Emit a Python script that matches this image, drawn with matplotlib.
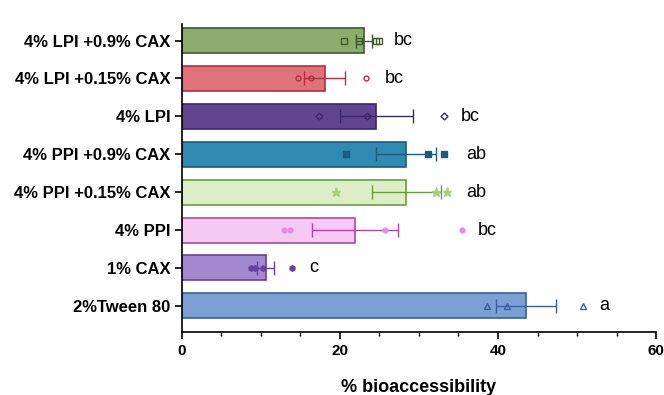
import matplotlib.pyplot as plt
import numpy as np

plt.rcParams['font.family'] = ['Liberation Sans', 'DejaVu Sans']

# bottom to top
groups = ["2%Tween 80", "1% CAX", "4% PPI", "4% PPI +0.15% CAX",
          "4% PPI +0.9% CAX", "4% LPI", "4% LPI +0.15% CAX", "4% LPI +0.9% CAX"]
means = [43.5, 10.6, 21.9, 28.4, 28.4, 24.6, 18.1, 23.0]
sems = [3.8, 1.1, 5.4, 4.4, 3.8, 4.6, 2.6, 1.0]
points = [
    [38.6, 41.2, 50.8],
    [8.8, 9.3, 10.2, 13.9],
    [12.9, 13.7, 25.7, 35.5],
    [19.5, 32.2, 33.6],
    [20.8, 31.2, 33.2],
    [17.3, 23.4, 33.2],
    [14.7, 16.3, 23.3],
    [20.5, 22.4, 24.6, 25.0],
]
letters = ["a", "c", "bc", "ab", "ab", "bc", "bc", "bc"]
letter_x = [52.8, 16.1, 37.5, 36.0, 36.0, 35.3, 25.7, 26.8]

fills = ["#7ba0d4", "#a488d0", "#f4c9f2", "#ddeec6", "#2e8ab0", "#60448f", "#e0727a", "#8eab6f"]
edges = ["#3a5fa6", "#6642a6", "#b044b0", "#66a03c", "#1b5d7c", "#3a2870", "#b2313c", "#3f5b2a"]
markers = ["^", "h", "o", "*", "s", "D", "o", "s"]
hollow = [True, False, False, False, False, True, True, True]
msizes = [5, 4, 3.5, 6.5, 4.5, 3.5, 3.5, 4.5]

fig = plt.figure(figsize=(6.64, 3.95), dpi=100)
ax = fig.add_axes([0.274, 0.1595, 0.714, 0.7797])

y = np.arange(len(groups))
ax.barh(y, means, height=0.66, color=fills, edgecolor=edges, linewidth=1.2, zorder=1)

for i in range(len(groups)):
    ax.errorbar(means[i], y[i], xerr=sems[i], fmt="none", ecolor=edges[i],
                elinewidth=1.0, capsize=5, capthick=1.0, zorder=3)
    face = "none" if hollow[i] else edges[i]
    mec = edges[i]
    if i == 3:
        face, mec = "#a6d07e", "#a6d07e"
    elif i == 2:
        face, mec = "#e58ee0", "#e58ee0"
    ax.plot(points[i], [y[i]] * len(points[i]), linestyle="none", marker=markers[i],
            markersize=msizes[i], markerfacecolor=face, markeredgecolor=mec,
            markeredgewidth=1.0, zorder=4)
    ax.text(letter_x[i], y[i], letters[i], fontsize=13, va="center", ha="left")

ax.set_xlim(0, 60)
ax.set_ylim(-0.69, 7.435)
ax.set_xticks([0, 20, 40, 60])
ax.set_xticks(np.arange(0, 61, 5), minor=True)
ax.set_yticks(y)
ax.set_yticklabels(groups, fontsize=12, fontweight="bold")

ax.spines["top"].set_visible(False)
ax.spines["right"].set_visible(False)
ax.spines["left"].set_linewidth(1.2)
ax.spines["bottom"].set_linewidth(1.2)
ax.tick_params(axis="both", which="major", width=1.2, length=5)
ax.tick_params(axis="x", which="minor", width=1.0, length=3)
ax.tick_params(axis="x", pad=4, labelsize=11)
for lab in ax.get_xticklabels():
    lab.set_fontweight("bold")

ax.set_xlabel("% bioaccessibility", fontsize=13, fontweight="bold")
ax.xaxis.set_label_coords(0.5, -0.179)
ax.xaxis.label.set_va("center")

fig.savefig("out.png", dpi=100)
